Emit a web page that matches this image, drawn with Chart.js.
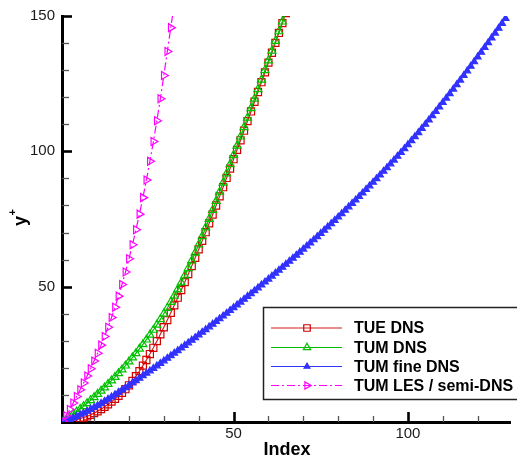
<!DOCTYPE html>
<html>
<head>
<meta charset="utf-8">
<script src="https://cdn.jsdelivr.net/npm/chart.js@4.4.1/dist/chart.umd.min.js"></script>
<style>
  html, body { margin: 0; padding: 0; background: #fff; overflow: hidden; }
  canvas { display: block; }
</style>
</head>
<body>
<canvas id="c" width="517" height="457"></canvas>
<script>
// y+ of each grid point, listed by grid index (index 1 = first point)
const tueDns = [
  0, 0.15, 0.35, 0.6, 0.9, 1.25, 1.65, 2.1, 2.65, 3.27,
  3.97, 4.75, 5.61, 6.53, 7.51, 8.55, 9.65, 10.81, 12.11, 13.56,
  15.16, 16.91, 18.81, 20.81, 22.91, 25.11, 27.41, 29.86, 32.41, 35.01,
  37.66, 40.36, 43.11, 45.91, 48.76, 51.66, 54.61, 57.61, 60.66, 63.76,
  66.91, 70.11, 73.36, 76.66, 79.99, 83.35, 86.74, 90.16, 93.61, 97.08,
  100.57, 104.08, 107.61, 111.16, 114.73, 118.32, 121.92, 125.53, 129.15, 132.78,
  136.42, 140.07, 143.73, 147.4, 151.08
];
const tumDns = [
  0, 0.9, 1.8, 2.8, 3.8, 4.8, 5.8, 6.9, 8.0, 9.1,
  10.3, 11.5, 12.7, 14.0, 15.3, 16.6, 18.0, 19.4, 20.8, 22.3,
  23.8, 25.4, 27.0, 28.7, 30.4, 32.2, 34.0, 35.9, 37.9, 40.0,
  42.1, 44.3, 46.6, 49.0, 51.5, 54.1, 56.8, 59.6, 62.5, 65.5,
  68.6, 71.8, 75.0, 78.3, 81.6, 85.0, 88.4, 91.8, 95.2, 98.6,
  102.0, 105.4, 108.9, 112.4, 115.9, 119.4, 122.9, 126.4, 129.95, 133.5,
  137.1, 140.7, 144.3, 147.9, 151.5
];
const tumFineDns = [
  0, 0.45, 0.95, 1.49, 2.06, 2.66, 3.29, 3.95, 4.64, 5.36,
  6.10, 6.86, 7.64, 8.44, 9.26, 10.09, 10.93, 11.78, 12.64, 13.51,
  14.39, 15.28, 16.18, 17.08, 17.99, 18.90, 19.82, 20.74, 21.67, 22.60,
  23.54, 24.48, 25.43, 26.38, 27.33, 28.29, 29.25, 30.22, 31.19, 32.17,
  33.15, 34.14, 35.13, 36.13, 37.13, 38.14, 39.15, 40.17, 41.19, 42.22,
  43.25, 44.29, 45.34, 46.39, 47.44, 48.50, 49.57, 50.64, 51.71, 52.79,
  53.88, 54.97, 56.06, 57.16, 58.27, 59.38, 60.49, 61.61, 62.74, 63.87,
  65.01, 66.16, 67.32, 68.49, 69.67, 70.86, 72.06, 73.27, 74.49, 75.72,
  76.96, 78.21, 79.47, 80.74, 82.02, 83.31, 84.61, 85.92, 87.24, 88.57,
  89.91, 91.26, 92.62, 93.99, 95.37, 96.76, 98.16, 99.57, 101.0, 102.45,
  103.92, 105.41, 106.92, 108.45, 110.0, 111.57, 113.16, 114.77, 116.39, 118.02,
  119.66, 121.31, 122.97, 124.64, 126.32, 128.01, 129.71, 131.42, 133.14, 134.87,
  136.61, 138.36, 140.12, 141.89, 143.67, 145.46, 147.26, 149.07
];
const tumLesSemiDns = [
  0.3, 2.3, 4.6, 7.0, 9.4, 11.9, 14.4, 17.0, 19.7, 22.5,
  25.4, 28.4, 31.6, 35.0, 38.6, 42.4, 46.5, 50.8, 55.4, 60.3,
  65.5, 71.0, 76.8, 82.9, 89.4, 96.3, 103.6, 111.3, 119.4, 128.0,
  136.9, 145.7, 154.7
];

const seriesNames = ['TUE DNS', 'TUM DNS', 'TUM fine DNS', 'TUM LES / semi-DNS'];
const xLabelTicks = [50, 100];
const xMinorTicks = [10, 20, 30, 40, 60, 70, 80, 90, 110, 120];
const yLabelTicks = [50, 100, 150];
const yMinorTicks = [10, 20, 30, 40, 60, 70, 80, 90, 110, 120, 130, 140];

const FONT = "'Liberation Sans', Arial, Helvetica, sans-serif";

// pair each y+ value with its grid index
function byIndex(values) {
  return values.map((v, i) => ({ x: i + 1, y: v }));
}

const styles = [
  { color: '#d40000', line: '#d42020', point: 'rect', radius: 5, fill: false, rot: 0, dash: [] },
  { color: '#00c000', line: '#00c000', point: 'triangle', radius: 4.6, fill: false, rot: 0, dash: [] },
  { color: '#3232ff', line: '#3232ff', point: 'triangle', radius: 3.9, fill: true, rot: 0, dash: [] },
  { color: '#ff00ff', line: '#ff00ff', point: 'triangle', radius: 4.6, fill: false, rot: 90, dash: [8, 3, 2, 3] }
];
const seriesData = [tueDns, tumDns, tumFineDns, tumLesSemiDns];
const drawOrder = [3, 2, 1, 0];

const datasets = seriesData.map((vals, k) => ({
  label: seriesNames[k],
  data: byIndex(vals),
  order: drawOrder[k],
  borderColor: styles[k].line,
  borderWidth: 1.2,
  borderDash: styles[k].dash,
  pointStyle: styles[k].point,
  pointRotation: styles[k].rot,
  pointRadius: styles[k].radius,
  pointBorderColor: styles[k].color,
  pointBackgroundColor: styles[k].fill ? styles[k].color : 'rgba(0,0,0,0)',
  pointBorderWidth: 1.2,
  fill: false,
  tension: 0
}));

function drawMarker(ctx, k, x, y, r) {
  const s = styles[k];
  ctx.save();
  ctx.strokeStyle = s.color;
  ctx.fillStyle = s.fill ? s.color : 'rgba(0,0,0,0)';
  ctx.lineWidth = 1.2;
  ctx.setLineDash([]);
  Chart.helpers.drawPoint(ctx, { pointStyle: s.point, rotation: s.rot, radius: r, borderWidth: 1.2 }, x, y);
  ctx.restore();
}

const decor = {
  id: 'decor',
  afterDraw(chart) {
    const { ctx, chartArea: a, scales } = chart;
    const xs = scales.x, ys = scales.y;
    ctx.save();
    // inward tick marks on the left axis
    const tickY = (v, len, w, col) => {
      const py = Math.round(ys.getPixelForValue(v)) + 0.5;
      ctx.strokeStyle = col; ctx.lineWidth = w;
      ctx.beginPath(); ctx.moveTo(a.left, py); ctx.lineTo(a.left + len, py); ctx.stroke();
    };
    yMinorTicks.forEach(v => tickY(v, 7, 1.3, '#555'));
    yLabelTicks.forEach(v => tickY(v, 10, 2.6, '#000'));
    // inward tick marks on the bottom axis
    const tickX = (v, len, w, col) => {
      const px = Math.round(xs.getPixelForValue(v)) + 0.5;
      ctx.strokeStyle = col; ctx.lineWidth = w;
      ctx.beginPath(); ctx.moveTo(px, a.bottom); ctx.lineTo(px, a.bottom - len); ctx.stroke();
    };
    xMinorTicks.forEach(v => tickX(v, 6, 1.3, '#555'));
    xLabelTicks.forEach(v => tickX(v, 10, 2.6, '#000'));

    // axis titles
    ctx.fillStyle = '#000';
    ctx.font = 'bold 18px ' + FONT;
    ctx.textAlign = 'center';
    ctx.textBaseline = 'alphabetic';
    ctx.fillText('Index', 287, 455);

    ctx.save();
    ctx.translate(26, 226);
    ctx.rotate(-Math.PI / 2);
    ctx.textAlign = 'left';
    ctx.fillText('y', 0, 0);
    ctx.font = 'bold 11px ' + FONT;
    ctx.textBaseline = 'middle';
    ctx.fillText('+', 10.5, -13);
    ctx.restore();

    // legend box
    const bx = 263, by = 307, bw = 262, bh = 92;
    ctx.fillStyle = '#fff';
    ctx.fillRect(bx, by, bw, bh);
    ctx.strokeStyle = '#222';
    ctx.lineWidth = 1.5;
    ctx.strokeRect(bx + 0.5, by + 0.5, bw, bh);
    const rows = [328, 347.5, 366.5, 385.5];
    const markerR = [4.6, 4.2, 3.4, 4.2];
    seriesNames.forEach((name, k) => {
      const ry = rows[k];
      ctx.save();
      ctx.strokeStyle = styles[k].line;
      ctx.lineWidth = 1.2;
      ctx.setLineDash(styles[k].dash);
      ctx.beginPath(); ctx.moveTo(271, ry); ctx.lineTo(342, ry); ctx.stroke();
      ctx.restore();
      drawMarker(ctx, k, 307, ry, markerR[k]);
      ctx.fillStyle = '#000';
      ctx.font = 'bold 16px ' + FONT;
      ctx.textAlign = 'left';
      ctx.textBaseline = 'middle';
      ctx.fillText(name, 354, ry + 1);
    });
    ctx.restore();
  }
};

new Chart(document.getElementById('c'), {
  type: 'line',
  data: { datasets },
  options: {
    responsive: false,
    animation: false,
    devicePixelRatio: 1,
    layout: { padding: { top: 12, right: 0, left: 0, bottom: 0 } },
    plugins: { legend: { display: false }, tooltip: { enabled: false }, title: { display: false } },
    scales: {
      x: {
        type: 'linear',
        min: 0.8,
        max: 129.5,
        grid: { display: false, drawTicks: false },
        border: { display: true, color: '#000', width: 3 },
        afterBuildTicks: s => { s.ticks = xLabelTicks.map(v => ({ value: v })); },
        afterFit: s => { s.height = 35; },
        ticks: { color: '#1a1a1a', font: { family: FONT, size: 15 }, padding: 3, maxRotation: 0, autoSkip: false }
      },
      y: {
        type: 'linear',
        min: 0,
        max: 150,
        grid: { display: false, drawTicks: false },
        border: { display: true, color: '#000', width: 3 },
        afterBuildTicks: s => { s.ticks = yLabelTicks.map(v => ({ value: v })); },
        afterFit: s => { s.width = 62; },
        ticks: { color: '#1a1a1a', font: { family: FONT, size: 15 }, padding: 7 }
      }
    }
  },
  plugins: [decor]
});
</script>
</body>
</html>
